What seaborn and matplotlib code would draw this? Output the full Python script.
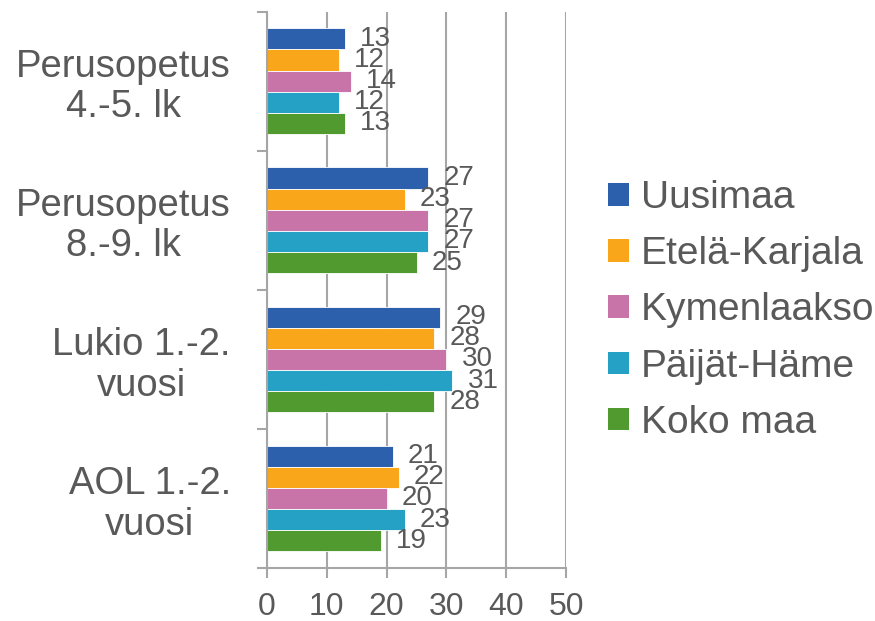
import matplotlib
matplotlib.use("Agg")
import matplotlib.pyplot as plt
import seaborn as sns
import pandas as pd
from matplotlib.patches import Patch

categories = ["Perusopetus\n4.-5. lk", "Perusopetus\n8.-9. lk", "Lukio 1.-2.\nvuosi", "AOL 1.-2.\nvuosi"]
series = ["Uusimaa", "Etelä-Karjala", "Kymenlaakso", "Päijät-Häme", "Koko maa"]
uusimaa = [13, 27, 29, 21]
etela_karjala = [12, 23, 28, 22]
kymenlaakso = [14, 27, 30, 20]
paijat_hame = [12, 27, 31, 23]
koko_maa = [13, 25, 28, 19]
x_ticks = [0, 10, 20, 30, 40, 50]

colors = ["#2C5FAC", "#F9A61A", "#C874A8", "#25A1C5", "#519A2F"]
TXT = "#595959"
GRID = "#A6A6A6"

values = [uusimaa, etela_karjala, kymenlaakso, paijat_hame, koko_maa]
rows = []
for s, vals in zip(series, values):
    for c, v in zip(categories, vals):
        rows.append({"cat": c, "series": s, "value": v})
df = pd.DataFrame(rows)

sns.set_theme(style="white")
plt.rcParams["font.family"] = ["Liberation Sans", "DejaVu Sans"]

fig = plt.figure(figsize=(8.75, 6.21), dpi=100)
ax = fig.add_axes([0.305, 0.0853, 0.342, 0.896])

sns.barplot(data=df, x="value", y="cat", hue="series", order=categories,
            hue_order=series, palette=colors, saturation=1, orient="h", width=0.76,
            edgecolor="white", linewidth=0.6, ax=ax, legend=False)

for cont in ax.containers:
    ax.bar_label(cont, padding=11, fontsize=20, color=TXT)

ax.set_xlim(0, 50)
ax.set_ylim(3.5, -0.5)
ax.set_xticks(x_ticks)
ax.set_xticklabels([str(t) for t in x_ticks])
ax.set_xlabel("")
ax.set_ylabel("")
ax.xaxis.grid(True, color=GRID, linewidth=1.5)
ax.yaxis.grid(False)
ax.set_axisbelow(True)

for sp in ["top", "right"]:
    ax.spines[sp].set_visible(False)
for sp in ["left", "bottom"]:
    ax.spines[sp].set_visible(True)
    ax.spines[sp].set_color(GRID)
    ax.spines[sp].set_linewidth(1.5)

ax.tick_params(axis="x", which="major", bottom=True, length=7, width=1.5,
               color=GRID, labelsize=23, labelcolor=TXT, pad=10)
ax.tick_params(axis="y", which="major", left=False, length=0,
               labelsize=27.5, labelcolor=TXT, pad=26)
ax.set_yticks([-0.5, 0.5, 1.5, 2.5, 3.5], minor=True)
ax.tick_params(axis="y", which="minor", left=True, length=7, width=1.5, color=GRID)
for lab in ax.get_yticklabels():
    lab.set_multialignment("center")
    lab.set_linespacing(1.15)

handles = [Patch(facecolor=c, edgecolor="none") for c in colors]
fig.legend(handles, series, loc="center left", bbox_to_anchor=(0.6554, 0.5),
           frameon=False, fontsize=28, labelcolor=TXT, handlelength=0.52,
           handleheight=0.52, handletextpad=0.31, labelspacing=0.52)

fig.savefig("out.png", dpi=100)
